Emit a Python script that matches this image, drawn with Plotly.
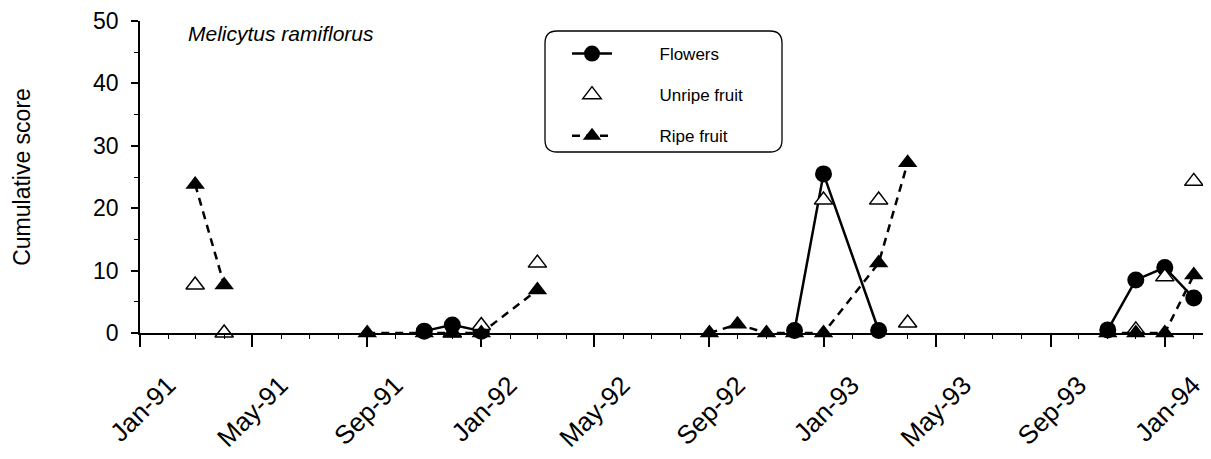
import plotly.graph_objects as go

# ---- data ----
flower_dates = ["1991-11-01", "1991-12-01", "1992-01-01", "1992-06-01",
                "1992-12-01", "1993-01-01", "1993-03-01", "1993-07-01",
                "1993-11-01", "1993-12-01", "1994-01-01", "1994-02-01"]
flower_vals = [0.3, 1.3, 0.3, None,
               0.4, 25.5, 0.4, None,
               0.5, 8.5, 10.5, 5.6]

unripe_dates = ["1991-03-01", "1991-04-01", "1991-12-01", "1992-01-01", "1992-03-01",
                "1993-01-01", "1993-03-01", "1993-04-01",
                "1993-12-01", "1994-01-01", "1994-02-01"]
unripe_vals = [7.7, 0.0, 0.0, 1.2, 11.2,
               21.3, 21.3, 1.6,
               0.5, 9.0, 24.3]

ripe_dates = ["1991-03-01", "1991-04-01", "1991-06-01",
              "1991-09-01", "1991-11-01", "1991-12-01", "1992-01-01", "1992-03-01", "1992-06-01",
              "1992-09-01", "1992-10-01", "1992-11-01", "1992-12-01", "1993-01-01", "1993-03-01", "1993-04-01", "1993-07-01",
              "1993-11-01", "1993-12-01", "1994-01-01", "1994-02-01"]
ripe_vals = [23.8, 7.7, None,
             0.0, 0.0, 0.0, 0.0, 6.9, None,
             0.0, 1.4, 0.0, 0.0, 0.0, 11.2, 27.3, None,
             0.0, 0.0, 0.0, 9.3]

series_names = ["Flowers", "Unripe fruit", "Ripe fruit"]
y_ticks = [0, 10, 20, 30, 40, 50]
chart_title = "Melicytus ramiflorus"
y_title = "Cumulative score"

FONT = "Liberation Sans, Arial, sans-serif"
PAD = "\u00a0" * 9   # gap between legend key and legend text

fig = go.Figure()
fig.add_trace(go.Scatter(
    x=flower_dates, y=flower_vals, name=PAD + series_names[0], mode="lines+markers",
    line=dict(color="black", width=2.5),
    marker=dict(symbol="circle", size=17, color="black"),
    cliponaxis=False, legendgroup="a", legendrank=1))
fig.add_trace(go.Scatter(
    x=unripe_dates, y=unripe_vals, name=PAD + series_names[1], mode="markers",
    marker=dict(symbol="triangle-up", size=16, color="white",
                line=dict(color="black", width=1.5)),
    cliponaxis=False, legendgroup="b", legendrank=2))
fig.add_trace(go.Scatter(
    x=ripe_dates, y=ripe_vals, name=PAD + series_names[2], mode="lines+markers",
    line=dict(color="black", width=2.5, dash="8px,6px"),
    marker=dict(symbol="triangle-up", size=17, color="black"),
    cliponaxis=False, legendgroup="c", legendrank=3))

# page offset of 8px (default body margin) compensated in margins
OFF = 8
W, H = 1211 - OFF, 459 - OFF
PL, PR, PT, PB = 140, 1205, 21, 333   # plot area in page pixels
L, T = PL - OFF, PT - OFF
R = W - (PR - OFF)
B = H - (PB - OFF)
pw, ph = PR - PL, PB - PT


def px(x):
    return (x - PL) / pw


def py(y):
    return (PB - y) / ph


# rounded legend box
x0, x1, y0, y1, r = px(545), px(782), py(31), py(152), 12
rx, ry = r / pw, r / ph
path = (f"M {x0+rx},{y0} L {x1-rx},{y0} Q {x1},{y0} {x1},{y0-ry} "
        f"L {x1},{y1+ry} Q {x1},{y1} {x1-rx},{y1} L {x0+rx},{y1} "
        f"Q {x0},{y1} {x0},{y1+ry} L {x0},{y0-ry} Q {x0},{y0} {x0+rx},{y0} Z")
fig.add_shape(type="path", path=path, xref="paper", yref="paper",
              line=dict(color="black", width=1.3))

fig.add_annotation(text=chart_title, xref="paper", yref="paper",
                   x=px(186), y=py(34), xanchor="left", yanchor="middle",
                   showarrow=False, font=dict(family=FONT, size=21, color="black", style="italic"))

fig.update_layout(
    width=W, height=H,
    margin=dict(l=L, r=R, t=T, b=B, autoexpand=False),
    plot_bgcolor="white", paper_bgcolor="white",
    font=dict(family=FONT, color="black"),
    showlegend=True,
    legend=dict(x=px(567), y=py(36), xanchor="left", yanchor="top",
                bgcolor="rgba(0,0,0,0)", borderwidth=0, itemwidth=40,
                traceorder="grouped", tracegroupgap=16,
                font=dict(family=FONT, size=17, color="black")),
    xaxis=dict(
        type="date", range=["1991-01-01", "1994-02-13"],
        tick0="1991-01-01", dtick="M4", tickformat="%b-%y",
        tickangle=-45, ticks="outside", ticklen=12, tickwidth=1.5, tickcolor="black",
        ticklabelshift=28, ticklabelstandoff=13, ticklabeloverflow="allow",
        showline=True, linecolor="black", linewidth=1.5,
        showgrid=False, zeroline=False,
        tickfont=dict(family=FONT, size=26, color="black"),
        minor=dict(dtick="M1", ticks="outside", ticklen=4, tickwidth=1, tickcolor="black"),
    ),
    yaxis=dict(
        range=[0, 50], tickvals=y_ticks, ticks="outside", ticklen=7, tickwidth=1.5,
        tickcolor="black", showline=True, linecolor="black", linewidth=1.5,
        showgrid=False, zeroline=False, ticklabelstandoff=8, ticklabeloverflow="allow",
        tickfont=dict(family=FONT, size=23, color="black"),
        minor=dict(dtick=5, ticks="outside", ticklen=4, tickwidth=1, tickcolor="black"),
        title=dict(text=y_title, font=dict(family=FONT, size=23, color="black"), standoff=56),
    ),
)

fig.write_html("out.html")
